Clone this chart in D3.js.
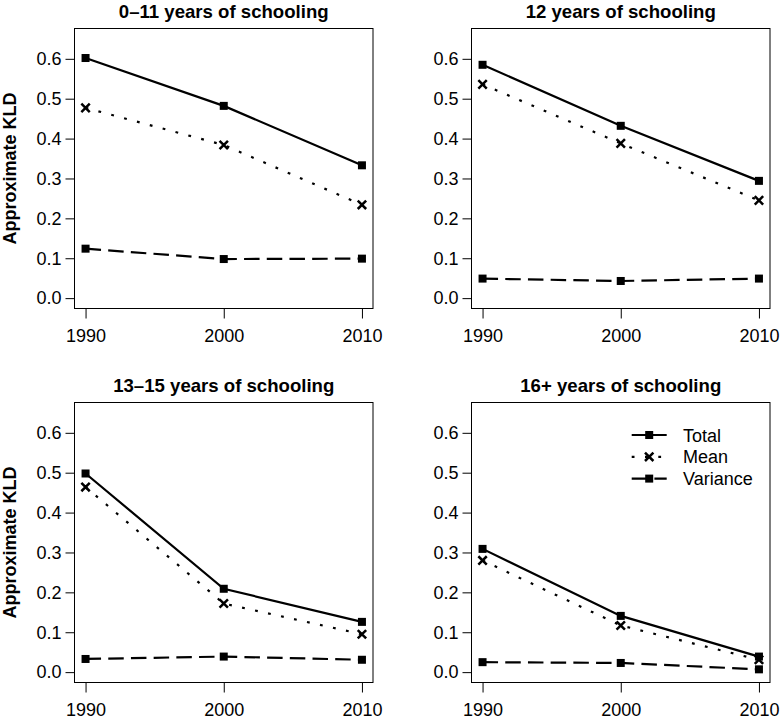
<!DOCTYPE html>
<html>
<head>
<meta charset="utf-8">
<script src="https://cdn.jsdelivr.net/npm/d3@7"></script>
<style>
  html, body { margin: 0; padding: 0; background: #fff; }
  svg { display: block; font-family: "Liberation Sans", Arial, Helvetica, sans-serif; }
</style>
</head>
<body>
<svg id="chart" width="781" height="720"></svg>
<script>
// ---- data ----
const years = [1990, 2000, 2010];
const panelTitles = ["0\u201311 years of schooling", "12 years of schooling", "13\u201315 years of schooling", "16+ years of schooling"];
const seriesNames = ["Total", "Mean", "Variance"];
const totalValues = [
  [0.602, 0.482, 0.333],
  [0.585, 0.432, 0.294],
  [0.498, 0.209, 0.126],
  [0.309, 0.141, 0.039]
];
const meanValues = [
  [0.477, 0.384, 0.234],
  [0.536, 0.388, 0.245],
  [0.464, 0.172, 0.095],
  [0.280, 0.117, 0.031]
];
const varianceValues = [
  [0.124, 0.098, 0.099],
  [0.049, 0.043, 0.049],
  [0.033, 0.039, 0.031],
  [0.025, 0.023, 0.007]
];
const yTicks = [0.0, 0.1, 0.2, 0.3, 0.4, 0.5, 0.6];
const yLabel = "Approximate KLD";

// ---- layout ----
const svg = d3.select("#chart");
const colX = [74.5, 471.5];
const rowY = [28.5, 402.5];
const pw = 298.5, ph = 280;

const styles = {
  Total:    { dash: null, marker: "square" },
  Mean:     { dash: "2.8,10.5", marker: "cross" },
  Variance: { dash: "15.5,7.2", marker: "square" }
};

function drawMarker(g, type, x, y) {
  if (type === "square") {
    g.append("rect").attr("x", x - 4).attr("y", y - 4)
      .attr("width", 8).attr("height", 8).attr("fill", "#000");
  } else {
    const s = 4.2;
    g.append("path")
      .attr("d", `M${x - s},${y - s}L${x + s},${y + s}M${x - s},${y + s}L${x + s},${y - s}`)
      .attr("stroke", "#000").attr("stroke-width", 2.5).attr("fill", "none");
  }
}

panelTitles.forEach((title, i) => {
  const left = colX[i % 2], top = rowY[Math.floor(i / 2)];
  const x = d3.scaleLinear().domain([1989.2, 2010.8]).range([left, left + pw]);
  const y = d3.scaleLinear().domain([-0.026, 0.676]).range([top + ph, top]);
  const g = svg.append("g");

  // axes
  const ya = g.append("g").attr("transform", `translate(${left},0)`)
    .call(d3.axisLeft(y).tickValues(yTicks).tickFormat(d3.format(".1f")).tickSize(9).tickPadding(4));
  const xa = g.append("g").attr("transform", `translate(0,${top + ph})`)
    .call(d3.axisBottom(x).tickValues(years).tickFormat(d3.format("d")).tickSize(10).tickPadding(11));
  [ya, xa].forEach(a => {
    a.select(".domain").remove();
    a.selectAll("line").attr("stroke", "#000").attr("stroke-width", 1);
    a.selectAll("text").attr("font-size", 18).attr("fill", "#000")
      .attr("font-family", "'Liberation Sans', Arial, Helvetica, sans-serif");
  });

  // box
  g.append("rect").attr("x", left).attr("y", top).attr("width", pw).attr("height", ph)
    .attr("fill", "none").attr("stroke", "#000").attr("stroke-width", 1);

  // title
  g.append("text").attr("x", left + pw / 2).attr("y", top - 10.5)
    .attr("text-anchor", "middle").attr("font-size", 18.6).attr("font-weight", "bold")
    .text(title);

  // y label
  if (i % 2 === 0) {
    g.append("text").attr("transform", `translate(16,${top + ph / 2}) rotate(-90)`)
      .attr("text-anchor", "middle").attr("font-size", 18).attr("font-weight", "bold")
      .text(yLabel);
  }

  const seriesData = [totalValues[i], meanValues[i], varianceValues[i]];
  const line = d3.line().x((d, j) => x(years[j])).y(d => y(d));
  seriesNames.forEach((name, k) => {
    const st = styles[name];
    g.append("path").datum(seriesData[k]).attr("d", line)
      .attr("fill", "none").attr("stroke", "#000").attr("stroke-width", 2.2)
      .attr("stroke-dasharray", st.dash);
    seriesData[k].forEach((v, j) => drawMarker(g, st.marker, x(years[j]), y(v)));
  });

  // legend in last panel
  if (i === 3) {
    const lx0 = 631.7, lx1 = 666.7, tx = 683, ly0 = 435, dy = 21.8;
    seriesNames.forEach((name, k) => {
      const st = styles[name];
      const yy = ly0 + k * dy;
      g.append("line").attr("x1", lx0).attr("x2", lx1).attr("y1", yy).attr("y2", yy)
        .attr("stroke", "#000").attr("stroke-width", 2.2).attr("stroke-dasharray", st.dash);
      drawMarker(g, st.marker, (lx0 + lx1) / 2, yy);
      g.append("text").attr("x", tx).attr("y", yy + 6.5).attr("font-size", 18).text(name);
    });
  }
});
</script>
</body>
</html>
